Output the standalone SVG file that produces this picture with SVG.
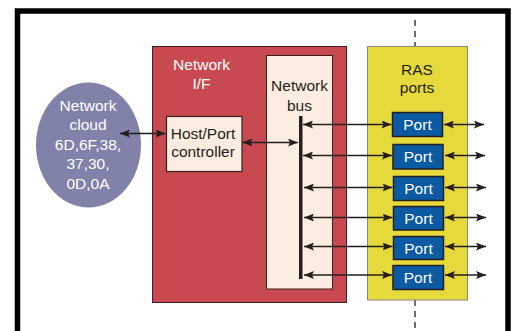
<svg xmlns="http://www.w3.org/2000/svg" width="513" height="331" viewBox="0 0 513 331">
<defs>
<style>
.lt{font-family:"Liberation Sans",Arial,sans-serif;font-size:15.5px;fill:#fff;text-anchor:middle}
.dk{font-family:"Liberation Sans",Arial,sans-serif;font-size:15.5px;fill:#231f20;text-anchor:middle}
.port rect{fill:#0b5aa2;stroke:#231f20;stroke-width:1.5}
.conn line{stroke:#231f20;stroke-width:1.3;marker-start:url(#ah);marker-end:url(#ah)}
</style>
<marker id="ah" viewBox="0 0 10 8" refX="10" refY="4" markerWidth="10" markerHeight="8" markerUnits="userSpaceOnUse" orient="auto-start-reverse">
<path d="M0,0 L10,4 L0,8 L2,4 z" fill="#231f20"/>
</marker>
</defs>
<rect width="513" height="331" fill="#fff"/>
<rect x="17.5" y="11" width="490.5" height="340" fill="none" stroke="#000" stroke-width="5.5"/>
<line x1="415" y1="20" x2="415" y2="47" stroke="#231f20" stroke-width="1.3" stroke-dasharray="6,5"/>
<line x1="415" y1="300" x2="415" y2="331" stroke="#231f20" stroke-width="1.3" stroke-dasharray="6,5"/>
<g id="cloud">
<ellipse cx="88.5" cy="145" rx="52.5" ry="62.5" fill="#8182aa"/>
<text class="lt" x="88" y="111">Network</text>
<text class="lt" x="88" y="130">cloud</text>
<text class="lt" x="88" y="149.5">6D,6F,38,</text>
<text class="lt" x="88" y="169">37,30,</text>
<text class="lt" x="88" y="188.5">0D,0A</text>
</g>
<g id="network-if">
<rect x="152.5" y="46.5" width="194" height="256" fill="#c84a50" stroke="#3a2022" stroke-width="1"/>
<text class="lt" x="201.5" y="69.5">Network</text>
<text class="lt" x="201.5" y="88.5">I/F</text>
</g>
<g id="network-bus">
<rect x="266.5" y="55.5" width="66" height="233.5" fill="#fdede0" stroke="#3a2022" stroke-width="1"/>
<text class="dk" x="299.5" y="91">Network</text>
<text class="dk" x="299.5" y="110.5">bus</text>
<rect x="299" y="116" width="3.5" height="163" fill="#231f20"/>
</g>
<g id="host-port-controller">
<rect x="166.5" y="116.5" width="75.5" height="55" fill="#fdede0" stroke="#3a2022" stroke-width="1.2"/>
<text class="dk" x="203" y="138.5">Host/Port</text>
<text class="dk" x="203" y="157">controller</text>
</g>
<g id="ras-ports">
<rect x="367.5" y="46.5" width="100" height="253.5" fill="#e6d93c" stroke="#8a8a7a" stroke-width="1"/>
<text class="dk" x="417" y="74.5">RAS</text>
<text class="dk" x="417" y="93">ports</text>
</g>
<g id="port1" class="port"><rect x="392.5" y="112.5" width="50" height="24"/><text class="lt" x="417.5" y="130">Port</text></g>
<g id="port2" class="port"><rect x="393" y="144.5" width="50" height="24.5"/><text class="lt" x="418" y="162">Port</text></g>
<g id="port3" class="port"><rect x="393.5" y="176.5" width="50" height="24"/><text class="lt" x="418.5" y="194">Port</text></g>
<g id="port4" class="port"><rect x="393.5" y="206.5" width="50" height="23.5"/><text class="lt" x="418.5" y="224">Port</text></g>
<g id="port5" class="port"><rect x="393.5" y="236.5" width="50" height="23"/><text class="lt" x="418.5" y="253.5">Port</text></g>
<g id="port6" class="port"><rect x="393" y="265.5" width="50.5" height="24"/><text class="lt" x="418" y="283">Port</text></g>
<g id="connectors" class="conn">
<line x1="120" y1="133.5" x2="165.5" y2="133.5"/>
<line x1="242.5" y1="142.5" x2="298" y2="142.5"/>
<line x1="303" y1="124.5" x2="391.5" y2="124.5"/>
<line x1="303" y1="155.5" x2="392" y2="155.5"/>
<line x1="304" y1="187.5" x2="392.5" y2="187.5"/>
<line x1="304" y1="217.5" x2="392.5" y2="217.5"/>
<line x1="304" y1="246.5" x2="392.5" y2="246.5"/>
<line x1="304" y1="275" x2="392" y2="275"/>
<line x1="444" y1="124.5" x2="484" y2="124.5"/>
<line x1="445" y1="155.5" x2="485" y2="155.5"/>
<line x1="445" y1="187.5" x2="486" y2="187.5"/>
<line x1="445" y1="217.5" x2="486" y2="217.5"/>
<line x1="445" y1="246.5" x2="486" y2="246.5"/>
<line x1="445" y1="275" x2="486" y2="275"/>
</g>
</svg>
